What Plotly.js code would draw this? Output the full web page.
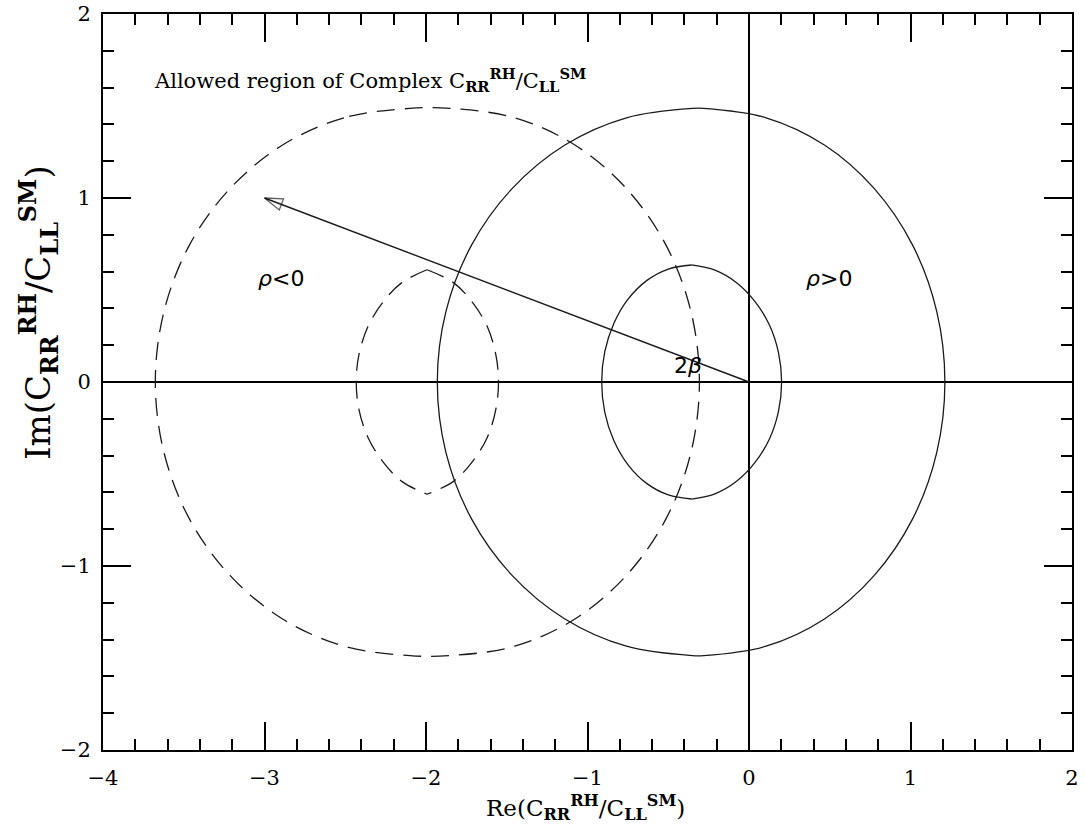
<!DOCTYPE html>
<html>
<head>
<meta charset="utf-8">
<script src="https://cdn.plot.ly/plotly-3.0.1.min.js"></script>
<style>
  html, body { margin: 0; padding: 0; background: #fff; }
  #chart { width: 1086px; height: 829px; }
</style>
</head>
<body>
<div id="chart"></div>
<script>
// Axis ticks
const xTickVals = [-4, -3, -2, -1, 0, 1, 2];
const xTickText = ['\u22124', '\u22123', '\u22122', '\u22121', '0', '1', '2'];
const yTickVals = [-2, -1, 0, 1, 2];
const yTickText = ['\u22122', '\u22121', '0', '1', '2'];

// rho > 0 : outer boundary (solid)
const solidOuterX = [-0.35, -0.759, -1.14, -1.467, -1.718, -1.876, -1.93, -1.876, -1.718, -1.467, -1.14, -0.759, -0.35,
                     -0.28, 0.106, 0.467, 0.776, 1.013, 1.162, 1.213, 1.162, 1.013, 0.776, 0.467, 0.106, -0.28, -0.35];
const solidOuterY = [1.487, 1.436, 1.288, 1.051, 0.744, 0.385, 0, -0.385, -0.744, -1.051, -1.288, -1.436, -1.487,
                     -1.487, -1.436, -1.288, -1.051, -0.744, -0.385, 0, 0.385, 0.744, 1.051, 1.288, 1.436, 1.487, 1.487];

// rho > 0 : inner boundary (solid), left and right arcs meeting at the cusps
const solidInnerLeftX = [-0.355, -0.499, -0.634, -0.749, -0.837, -0.893, -0.912, -0.893, -0.837, -0.749, -0.634, -0.499, -0.355];
const solidInnerLeftY = [0.636, 0.614, 0.551, 0.450, 0.318, 0.165, 0, -0.165, -0.318, -0.450, -0.551, -0.614, -0.636];
const solidInnerRightX = [-0.355, -0.211, -0.077, 0.035, 0.125, 0.182, 0.202, 0.182, 0.125, 0.035, -0.077, -0.211, -0.355];
const solidInnerRightY = [0.636, 0.608, 0.540, 0.440, 0.312, 0.162, 0, -0.162, -0.312, -0.440, -0.540, -0.608, -0.636];

// rho < 0 : outer boundary (dashed)
const dashedOuterX = [-2.1, -2.508, -2.888, -3.214, -3.465, -3.622, -3.676, -3.622, -3.465, -3.214, -2.888, -2.508, -2.1,
                      -1.85, -1.451, -1.078, -0.759, -0.514, -0.36, -0.307, -0.36, -0.514, -0.759, -1.078, -1.451, -1.85, -2.1];
const dashedOuterY = [1.487, 1.436, 1.288, 1.051, 0.744, 0.385, 0, -0.385, -0.744, -1.051, -1.288, -1.436, -1.487,
                      -1.487, -1.436, -1.288, -1.051, -0.744, -0.385, 0, 0.385, 0.744, 1.051, 1.288, 1.436, 1.487, 1.487];

// rho < 0 : inner boundary (dashed)
const dashedInnerLeftX = [-1.994, -2.15, -2.27, -2.36, -2.415, -2.432, -2.415, -2.36, -2.27, -2.15, -1.994];
const dashedInnerLeftY = [0.61, 0.54, 0.43, 0.30, 0.15, 0, -0.15, -0.30, -0.43, -0.54, -0.61];
const dashedInnerRightX = [-1.994, -1.83, -1.71, -1.62, -1.568, -1.551, -1.568, -1.62, -1.71, -1.83, -1.994];
const dashedInnerRightY = [0.61, 0.54, 0.43, 0.30, 0.15, 0, -0.15, -0.30, -0.43, -0.54, -0.61];

// Phase arrow (angle 2beta)
const arrowX = [0, -3];
const arrowY = [0, 1];

const INK = '#1a1a1a';
const DASH = '18px,10px';

function curve(x, y, dash) {
  return {
    x: x, y: y, type: 'scatter', mode: 'lines', hoverinfo: 'skip',
    line: { color: INK, width: 1.3, dash: dash || 'solid', shape: 'spline', smoothing: 1 }
  };
}

const traces = [
  curve(solidOuterX, solidOuterY),
  curve(solidInnerLeftX, solidInnerLeftY),
  curve(solidInnerRightX, solidInnerRightY),
  curve(dashedOuterX, dashedOuterY, DASH),
  curve(dashedInnerLeftX, dashedInnerLeftY, DASH),
  curve(dashedInnerRightX, dashedInnerRightY, DASH),
  {
    x: arrowX, y: arrowY, type: 'scatter', mode: 'lines+markers', hoverinfo: 'skip',
    line: { color: INK, width: 1.4 },
    marker: {
      symbol: ['circle', 'arrow-open'], size: [0, 19], angleref: 'previous',
      color: INK, line: { color: INK, width: 1.3 }
    }
  }
];

const serif = 'DejaVu Serif, Liberation Serif, serif';
const sans = 'DejaVu Sans, Liberation Sans, sans-serif';

const axisCommon = {
  ticks: 'inside', ticklen: 28, tickwidth: 2, tickcolor: '#000',
  showline: true, linewidth: 2, linecolor: '#000', mirror: 'ticks',
  showgrid: false, zeroline: true, zerolinewidth: 2, zerolinecolor: '#000',
  tickfont: { family: serif, size: 21, color: '#000' },
  minor: { tickmode: 'linear', tick0: 0, dtick: 0.2, ticks: 'inside', ticklen: 11, tickwidth: 2, tickcolor: '#000', showgrid: false },
  fixedrange: true, tickmode: 'array'
};

const layout = {
  width: 1086, height: 829,
  margin: { l: 103, r: 14, t: 14, b: 79 },
  paper_bgcolor: '#fff', plot_bgcolor: '#fff',
  showlegend: false,
  xaxis: Object.assign({}, axisCommon, {
    range: [-4, 2], tickvals: xTickVals, ticktext: xTickText, ticklabelstandoff: 8
  }),
  yaxis: Object.assign({}, axisCommon, {
    range: [-2, 2], tickvals: yTickVals, ticktext: yTickText, ticklabelstandoff: 6
  }),
  annotations: [
    {
      xref: 'x', yref: 'y', x: -3.694, y: 1.641, xanchor: 'left', yanchor: 'middle', showarrow: false,
      text: 'Allowed region of Complex C<sub><b>RR</b></sub><sup><b>RH</b></sup>/C<sub><b>LL</b></sub><sup><b>SM</b></sup>',
      font: { family: serif, size: 21, color: '#000' }
    },
    {
      xref: 'x', yref: 'y', x: -2.90, y: 0.565, showarrow: false,
      text: '<i>\u03c1</i>&lt;0', font: { family: sans, size: 22, color: '#000' }
    },
    {
      xref: 'x', yref: 'y', x: 0.495, y: 0.565, showarrow: false,
      text: '<i>\u03c1</i>&gt;0', font: { family: sans, size: 22, color: '#000' }
    },
    {
      xref: 'x', yref: 'y', x: -0.377, y: 0.087, showarrow: false,
      text: '2<i>\u03b2</i>', font: { family: sans, size: 22, color: '#000' }
    },
    {
      xref: 'paper', yref: 'paper', x: 0.498, y: -0.078, xanchor: 'center', yanchor: 'middle', showarrow: false,
      text: 'Re(C<sub><b>RR</b></sub><sup><b>RH</b></sup>/C<sub><b>LL</b></sub><sup><b>SM</b></sup>)',
      font: { family: serif, size: 23, color: '#000' }
    },
    {
      xref: 'paper', yref: 'paper', x: -0.066, y: 0.594, xanchor: 'center', yanchor: 'middle', showarrow: false,
      textangle: -90,
      text: 'Im(C<sub><b>RR</b></sub><sup><b>RH</b></sup>/C<sub><b>LL</b></sub><sup><b>SM</b></sup>)',
      font: { family: serif, size: 34, color: '#000' }
    }
  ]
};

Plotly.newPlot('chart', traces, layout, { displayModeBar: false, staticPlot: true });
</script>
</body>
</html>
